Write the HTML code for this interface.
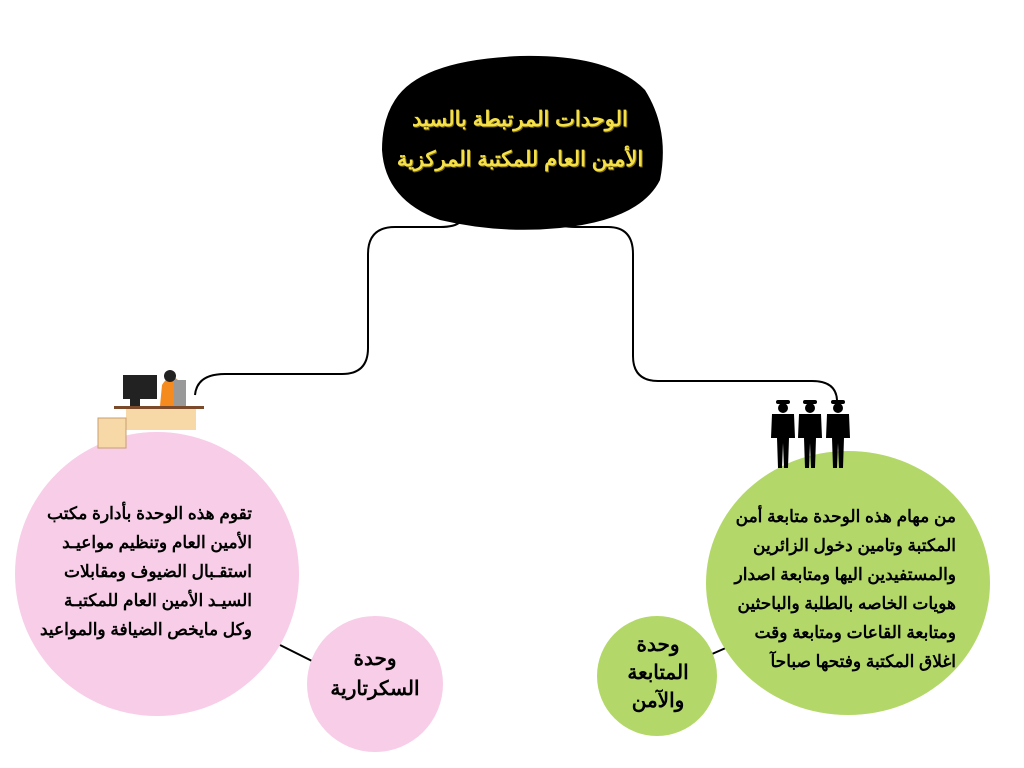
<!DOCTYPE html>
<html><head><meta charset="utf-8"><style>
html,body{margin:0;padding:0;width:1024px;height:768px;background:#fff;overflow:hidden;position:relative;font-family:"Liberation Sans","Noto Sans CJK SC",sans-serif;}
.t{position:absolute;direction:rtl;font-weight:bold;color:#000;white-space:nowrap;}
</style></head><body>
<svg width="1024" height="768" style="position:absolute;left:0;top:0">
<path d="M460,222 Q455,227 440,227 L395,227 Q368,227 368,254 L368,348 Q368,374 342,374 L225,374 Q197,374 195,395" fill="none" stroke="#000" stroke-width="2"/>
<path d="M556,222 Q560,227 575,227 L608,227 Q633,227 633,254 L633,356 Q633,381 658,381 L812,381 Q836,381 837,400" fill="none" stroke="#000" stroke-width="2"/>
<line x1="280" y1="645" x2="312" y2="661" stroke="#000" stroke-width="2"/>
<line x1="712" y1="654" x2="728" y2="647" stroke="#000" stroke-width="2"/>
<path d="M395,100 Q420,60 520,56 Q610,54 645,90 Q670,130 660,180 Q640,220 560,228 Q500,234 440,220 Q385,200 382,150 Q382,120 395,100 Z" fill="#000"/>
<circle cx="157" cy="574" r="142" fill="#f8cde7"/>
<circle cx="375" cy="684" r="68" fill="#f8cde7"/>
<ellipse cx="848" cy="583" rx="142" ry="132" fill="#b3d869"/>
<circle cx="657" cy="676" r="60" fill="#b3d869"/>
<rect x="123" y="375" width="34" height="24" fill="#222"/>
<rect x="130" y="398" width="10" height="8" fill="#222"/>
<rect x="114" y="406" width="90" height="3" fill="#7a4a2a"/>
<rect x="126" y="409" width="70" height="21" fill="#f7d9a8"/>
<rect x="98" y="418" width="28" height="30" fill="#f7d9a8" stroke="#c9a070"/>
<path d="M162,385 Q170,372 178,380 L186,406 L160,406 Z" fill="#f58a1f"/>
<circle cx="170" cy="376" r="6" fill="#222"/>
<rect x="174" y="380" width="12" height="26" fill="#999"/>
<g fill="#000">
<g transform="translate(783,398)"><circle cx="0" cy="10" r="5"/><rect x="-7" y="2" width="14" height="4" rx="2"/><path d="M-11,16 L11,16 L12,40 L6,40 L5,70 L1,70 L0,45 L-1,70 L-5,70 L-6,40 L-12,40 Z"/></g>
<g transform="translate(810,398)"><circle cx="0" cy="10" r="5"/><rect x="-7" y="2" width="14" height="4" rx="2"/><path d="M-11,16 L11,16 L12,40 L6,40 L5,70 L1,70 L0,45 L-1,70 L-5,70 L-6,40 L-12,40 Z"/></g>
<g transform="translate(838,398)"><circle cx="0" cy="10" r="5"/><rect x="-7" y="2" width="14" height="4" rx="2"/><path d="M-11,16 L11,16 L12,40 L6,40 L5,70 L1,70 L0,45 L-1,70 L-5,70 L-6,40 L-12,40 Z"/></g>
</g>
</svg>
<div class="t" style="left:385px;top:100px;width:270px;text-align:center;color:#f5e04a;font-size:21px;line-height:40px;text-shadow:1px 1px 0 #7a6a10;">الوحدات المرتبطة بالسيد<br>الأمين العام للمكتبة المركزية</div>
<div class="t" style="left:30px;top:499px;width:222px;text-align:right;font-size:17px;line-height:29px;">تقوم هذه الوحدة بأدارة مكتب<br>الأمين العام وتنظيم مواعيـد<br>استقـبال الضيوف ومقابلات<br>السيـد الأمين العام للمكتبـة<br>وكل مايخص الضيافة والمواعيد</div>
<div class="t" style="left:310px;top:644px;width:130px;text-align:center;font-size:20px;line-height:30px;">وحدة<br>السكرتارية</div>
<div class="t" style="left:720px;top:502px;width:236px;text-align:right;font-size:17px;line-height:29px;">من مهام هذه الوحدة متابعة أمن<br>المكتبة وتامين دخول الزائرين<br>والمستفيدين اليها ومتابعة اصدار<br>هويات الخاصه بالطلبة والباحثين<br>ومتابعة القاعات ومتابعة وقت<br>اغلاق المكتبة وفتحها صباحآ</div>
<div class="t" style="left:598px;top:631px;width:120px;text-align:center;font-size:20px;line-height:28px;">وحدة<br>المتابعة<br>والآمن</div>
</body></html>
